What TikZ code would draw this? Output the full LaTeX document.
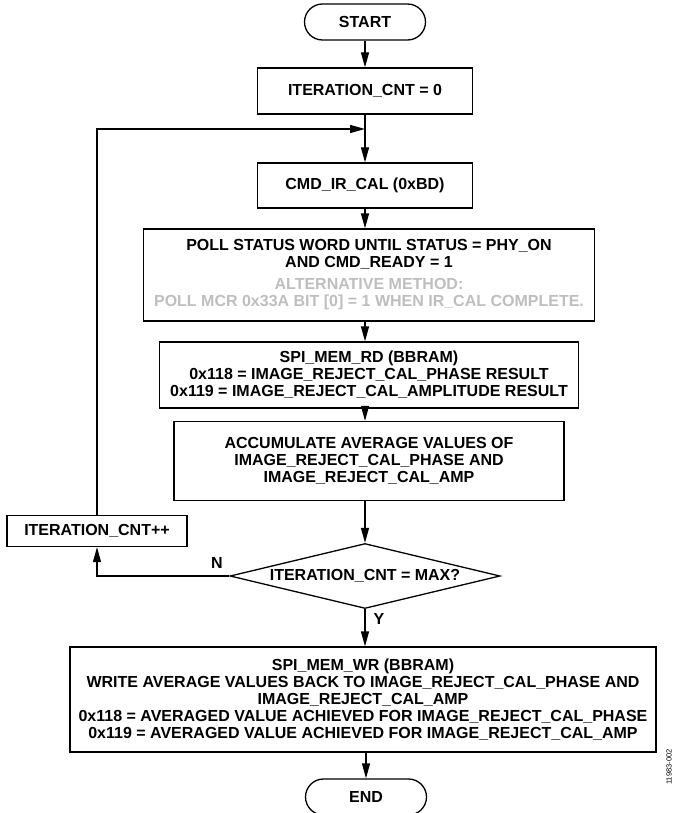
\documentclass[tikz,border=0pt]{standalone}
\usepackage{fontspec}
\setmainfont{Liberation Sans}
\usepackage{xcolor}
\usetikzlibrary{shapes,arrows.meta,positioning,calc}

\definecolor{altgray}{RGB}{190,190,190}

\tikzset{
    proc/.style={draw, line width=1.3pt, align=center, inner sep=2pt,
        font=\bfseries\fontsize{16}{17}\selectfont},
    term/.style={proc, rounded corners=18pt, minimum width=121pt, minimum height=36pt},
    test/.style={proc, diamond, aspect=4.15, inner sep=0pt, minimum width=270pt, minimum height=65pt},
    flow/.style={line width=1.3pt, -{Triangle[length=15pt,width=8pt]}},
    tag/.style={font=\bfseries\fontsize{16}{17}\selectfont}
}

\begin{document}
\begin{tikzpicture}[x=1pt, y=-1pt]
    \useasboundingbox (0,0) rectangle (674,813);

    % Main column
    \node[term] (start) at (365,22) {START};
    \node[proc, minimum width=215pt, minimum height=46pt] (init) at (365,91) {ITERATION\_CNT = 0};
    \node[proc, minimum width=215pt, minimum height=45pt] (ircal) at (365,185.5) {CMD\_IR\_CAL (0xBD)};
    \node[proc, minimum width=451pt, minimum height=92pt] (poll) at (369,275)
        {POLL STATUS WORD UNTIL STATUS = PHY\_ON\\AND CMD\_READY = 1\\[5pt]
         \textcolor{altgray}{ALTERNATIVE METHOD:}\\
         \textcolor{altgray}{POLL MCR 0x33A BIT [0] = 1 WHEN IR\_CAL COMPLETE.}};
    \node[proc, minimum width=419pt, minimum height=66pt] (memrd) at (369,375)
        {SPI\_MEM\_RD (BBRAM)\\0x118 = IMAGE\_REJECT\_CAL\_PHASE RESULT\\0x119 = IMAGE\_REJECT\_CAL\_AMPLITUDE RESULT};
    \node[proc, minimum width=390pt, minimum height=79pt] (accum) at (369,461)
        {ACCUMULATE AVERAGE VALUES OF\\IMAGE\_REJECT\_CAL\_PHASE AND\\IMAGE\_REJECT\_CAL\_AMP};
    \node[test] (maxchk) at (365,576) {ITERATION\_CNT = MAX?};
    \node[proc, minimum width=586pt, minimum height=105pt] (memwr) at (363,699.5)
        {SPI\_MEM\_WR (BBRAM)\\WRITE AVERAGE VALUES BACK TO IMAGE\_REJECT\_CAL\_PHASE AND\\IMAGE\_REJECT\_CAL\_AMP\\
         0x118 = AVERAGED VALUE ACHIEVED FOR IMAGE\_REJECT\_CAL\_PHASE\\0x119 = AVERAGED VALUE ACHIEVED FOR IMAGE\_REJECT\_CAL\_AMP};
    \node[term] (finish) at (366,797) {END};

    % Loop counter
    \node[proc, minimum width=180pt, minimum height=31pt] (incr) at (97,531) {ITERATION\_CNT++};
    \coordinate (rejoin) at (365,129);

    % Connectors
    \draw[flow] (start) -- (init);
    \draw[flow] (init) -- (ircal);
    \draw[flow] (ircal) -- (ircal |- poll.north);
    \draw[flow] (ircal |- poll.south) -- (ircal |- memrd.north);
    \draw[flow] (ircal |- memrd.south) -- (ircal |- accum.north);
    \draw[flow] (ircal |- accum.south) -- (maxchk);
    \draw[flow] (maxchk.west) -| (incr.south);
    \draw[flow] (incr.north) |- (rejoin);
    \draw[flow] (maxchk.south) -- (maxchk.south |- memwr.north);
    \draw[flow] (memwr.south -| finish) -- (finish);

    % Branch labels
    \node[tag] (nolbl) at (217,563) {N};
    \node[tag] (yeslbl) at (379,619) {Y};

    % Figure number
    \node[rotate=90, font=\fontsize{7.5}{8}\selectfont] (fignum) at (669,767) {11983-002};
\end{tikzpicture}
\end{document}
